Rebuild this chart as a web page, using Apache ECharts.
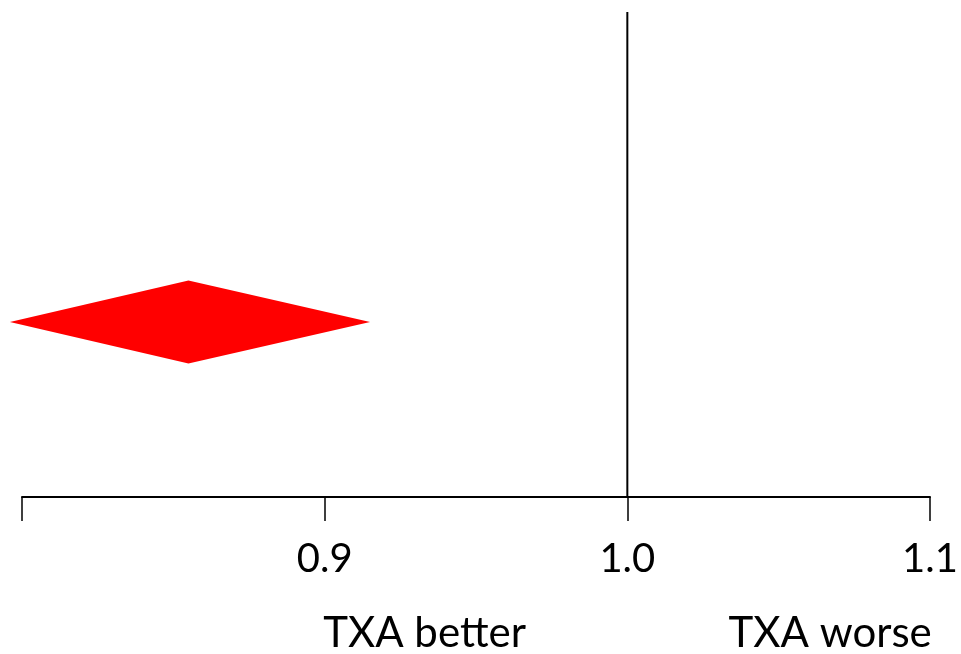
<!DOCTYPE html>
<html>
<head>
<meta charset="utf-8">
<script src="https://cdn.jsdelivr.net/npm/echarts@6/dist/echarts.min.js"></script>
<style>
  html, body { margin: 0; padding: 0; background: #fff; }
  #main { width: 961px; height: 654px; }
</style>
</head>
<body>
<div id="main"></div>
<script>
// pooled estimate: low, point, high (ratio)
const pooled = [0.796, 0.855, 0.915];
const rowPos = [0.361];
const nullValue = 1.0;
const tickLabels = ['', '0.9', '1.0', '1.1'];
const sideLabels = ['TXA better', 'TXA worse'];
const sideLabelAt = [0.933, 1.067];

const FONT = 'Lato';
var myChart = echarts.init(document.getElementById('main'));

var option = {
  animation: false,
  grid: { left: 22, right: 31, top: 12, bottom: 157 },
  xAxis: {
    type: 'value',
    min: 0.8,
    max: 1.1,
    interval: 0.1,
    axisLine: { lineStyle: { color: '#000', width: 2 } },
    axisTick: { length: 24, lineStyle: { color: '#000', width: 1.5 } },
    splitLine: { show: false },
    axisLabel: {
      margin: 42,
      fontFamily: FONT,
      fontSize: 40,
      lineHeight: 40,
      color: '#000',
      formatter: function (v) {
        return tickLabels[Math.round((v - 0.8) * 10)];
      }
    }
  },
  yAxis: { type: 'value', min: 0, max: 1, show: false },
  series: [{
    type: 'line',
    data: [[nullValue, 0], [nullValue, 1]],
    symbol: 'none',
    lineStyle: { color: '#000', width: 2 },
    z: 1
  }, {
    type: 'custom',
    data: [[pooled[0], pooled[1], pooled[2], rowPos[0]]],
    renderItem: function (params, api) {
      var l = api.coord([api.value(0), api.value(3)]);
      var m = api.coord([api.value(1), api.value(3)]);
      var r = api.coord([api.value(2), api.value(3)]);
      var h = 41.5;
      return {
        type: 'polygon',
        shape: { points: [[l[0], l[1]], [m[0], m[1] - h], [r[0], r[1]], [m[0], m[1] + h]] },
        style: { fill: '#ff0000' }
      };
    },
    z: 2
  }],
  graphic: sideLabels.map(function (t, i) {
    return {
      type: 'text',
      x: 22 + (sideLabelAt[i] - 0.8) / 0.3 * 908,
      y: 633,
      style: {
        text: t,
        fontFamily: FONT,
        fontSize: 42,
        fill: '#000',
        align: 'center',
        verticalAlign: 'middle'
      }
    };
  })
};

myChart.setOption(option);
</script>
</body>
</html>
